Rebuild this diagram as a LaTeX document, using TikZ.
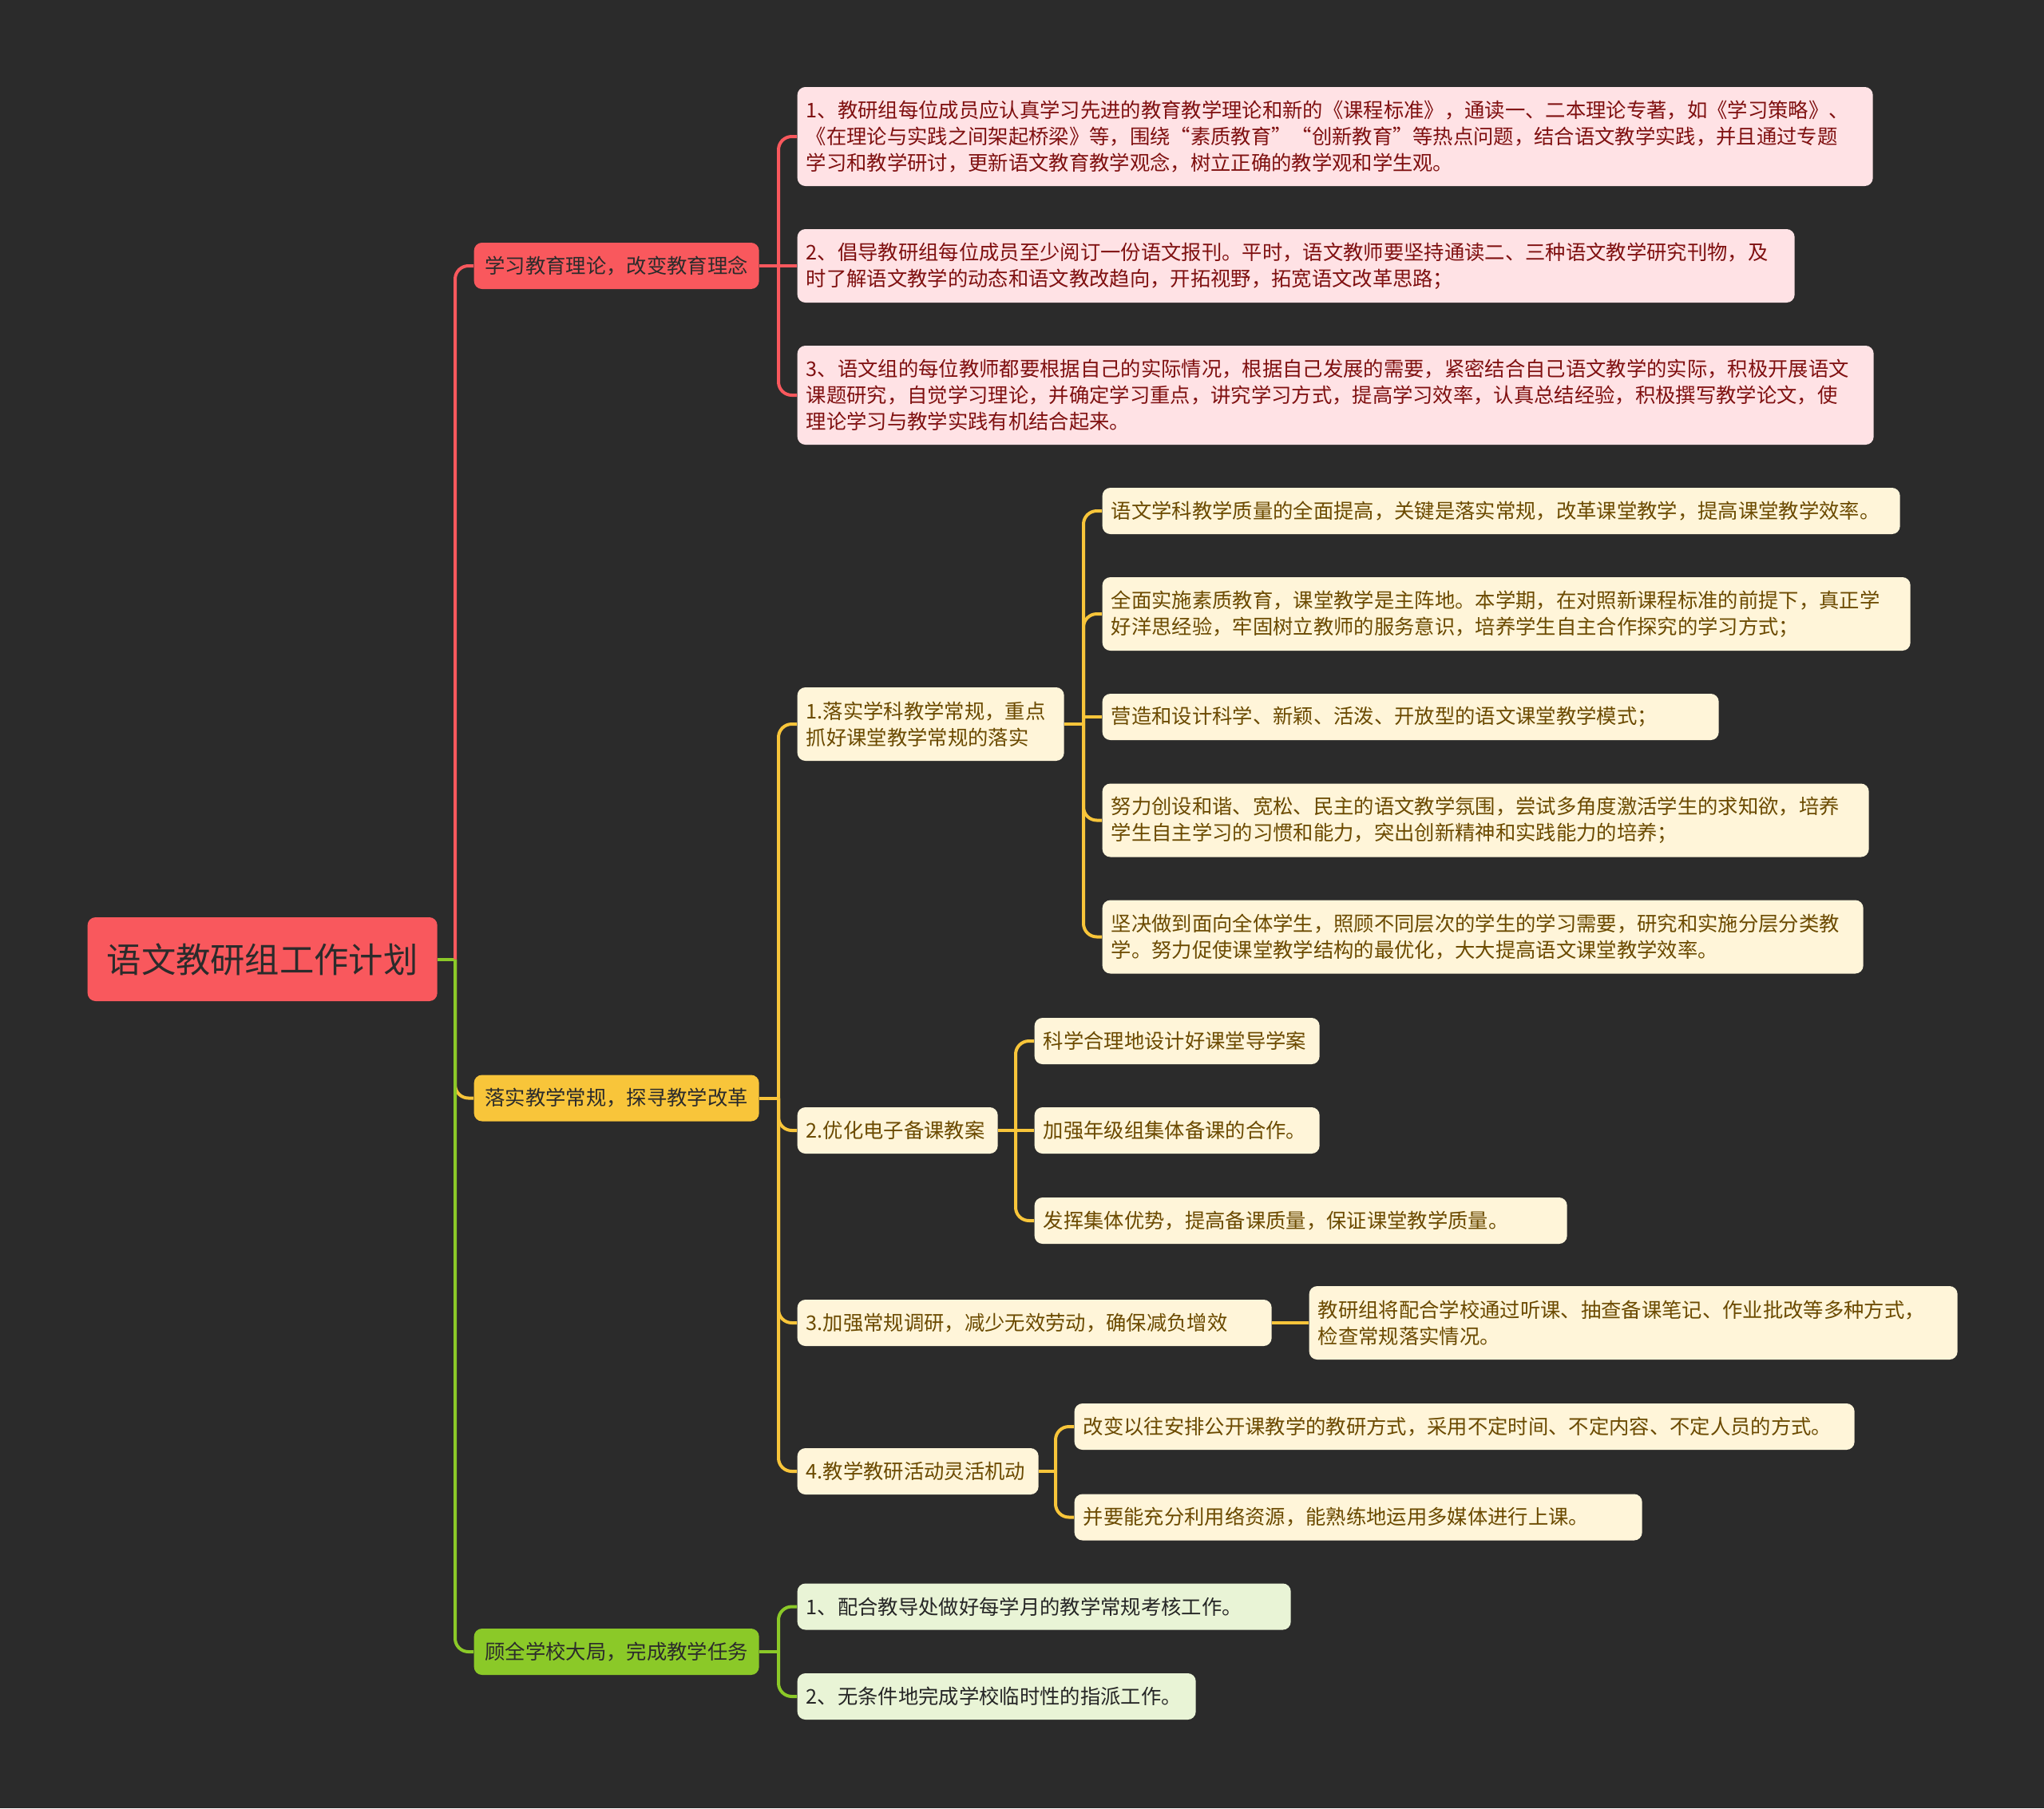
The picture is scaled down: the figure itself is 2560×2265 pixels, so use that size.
\documentclass[tikz,border=0pt]{standalone}
\usepackage{fontspec}
\setmainfont{Noto Sans CJK SC}
\definecolor{bg}{HTML}{2B2B2B}
\definecolor{redc}{HTML}{F9585D}
\definecolor{yelc}{HTML}{F8C53A}
\definecolor{grnc}{HTML}{8BC928}
\definecolor{pinkfill}{HTML}{FFE2E5}
\definecolor{pinktext}{HTML}{7F1010}
\definecolor{creamfill}{HTML}{FFF5D9}
\definecolor{creamtext}{HTML}{6B4A00}
\definecolor{lgfill}{HTML}{E9F4D6}
\definecolor{lgtext}{HTML}{262626}
\definecolor{darktext}{HTML}{2B2B2B}
\tikzset{
  basebox/.style={rounded corners=3pt, inner xsep=3.3pt, inner ysep=2pt, anchor=west,
    font=\fontsize{7.6pt}{9.8pt}\selectfont},
  leafbox/.style={basebox, align=left},
  pinkleaf/.style={leafbox, fill=pinkfill, text=pinktext},
  creamleaf/.style={leafbox, fill=creamfill, text=creamtext},
  greenleaf/.style={leafbox, fill=lgfill, text=lgtext},
  onel/.style={minimum height=17.4pt},
  twol/.style={minimum height=27.6pt},
  threel/.style={minimum height=37.2pt},
  mainbox/.style={basebox, align=center, minimum width=107.1pt, minimum height=17.4pt, text=darktext},
  conn/.style={line width=1.2pt, rounded corners=5pt},
  rline/.style={conn, draw=redc},
  yline/.style={conn, draw=yelc},
  gline/.style={conn, draw=grnc},
}
\begin{document}
\begin{tikzpicture}[x=0.3pt,y=-0.3pt]
\fill[bg] (0,0) rectangle (2560,2265);
\useasboundingbox (0,0) rectangle (2560,2265);

% root
\node[basebox, fill=redc, align=center, minimum width=131.4pt, minimum height=31.5pt,
  font=\fontsize{13pt}{15pt}\selectfont, text=darktext] (root) at (109,1201.5) {语文教研组工作计划};

% level 1
\node[mainbox, fill=redc] (l1a) at (593,333) {学习教育理论，改变教育理念};
\node[mainbox, fill=yelc] (l1b) at (593,1375.5) {落实教学常规，探寻教学改革};
\node[mainbox, fill=grnc] (l1c) at (593,2069) {顾全学校大局，完成教学任务};

% pink leaves
\node[pinkleaf, threel, text width=397.5pt] (p1) at (998,171) {1、教研组每位成员应认真学习先进的教育教学理论和新的《课程标准》，通读一、二本理论专著，如《学习策略》、\\《在理论与实践之间架起桥梁》等，围绕“素质教育”“创新教育”等热点问题，结合语文教学实践，并且通过专题\\学习和教学研讨，更新语文教育教学观念，树立正确的教学观和学生观。};
\node[pinkleaf, twol, text width=368.1pt] (p2) at (998,333) {2、倡导教研组每位成员至少阅订一份语文报刊。平时，语文教师要坚持通读二、三种语文教学研究刊物，及\\时了解语文教学的动态和语文教改趋向，开拓视野，拓宽语文改革思路；};
\node[pinkleaf, threel, text width=397.8pt] (p3) at (998,495) {3、语文组的每位教师都要根据自己的实际情况，根据自己发展的需要，紧密结合自己语文教学的实际，积极开展语文\\课题研究，自觉学习理论，并确定学习重点，讲究学习方式，提高学习效率，认真总结经验，积极撰写教学论文，使\\理论学习与教学实践有机结合起来。};

% yellow level 2
\node[creamleaf, twol, text width=93.6pt] (y1) at (998,907) {1.落实学科教学常规，重点\\抓好课堂教学常规的落实};
\node[creamleaf, onel, text width=68.7pt] (y2) at (998,1416) {2.优化电子备课教案};
\node[creamleaf, onel, text width=171.6pt] (y3) at (998,1657) {3.加强常规调研，减少无效劳动，确保减负增效};
\node[creamleaf, onel, text width=84pt] (y4) at (998,1843) {4.教学教研活动灵活机动};

% yellow level 3
\node[creamleaf, onel, text width=293.1pt] (a1) at (1380,640) {语文学科教学质量的全面提高，关键是落实常规，改革课堂教学，提高课堂教学效率。};
\node[creamleaf, twol, text width=297pt] (a2) at (1380,769) {全面实施素质教育，课堂教学是主阵地。本学期，在对照新课程标准的前提下，真正学\\好洋思经验，牢固树立教师的服务意识，培养学生自主合作探究的学习方式；};
\node[creamleaf, onel, text width=225pt] (a3) at (1380,898) {营造和设计科学、新颖、活泼、开放型的语文课堂教学模式；};
\node[creamleaf, twol, text width=281.4pt] (a4) at (1380,1027.5) {努力创设和谐、宽松、民主的语文教学氛围，尝试多角度激活学生的求知欲，培养\\学生自主学习的习惯和能力，突出创新精神和实践能力的培养；};
\node[creamleaf, twol, text width=279.3pt] (a5) at (1380,1173.5) {坚决做到面向全体学生，照顾不同层次的学生的学习需要，研究和实施分层分类教\\学。努力促使课堂教学结构的最优化，大大提高语文课堂教学效率。};

\node[creamleaf, onel, text width=100.5pt] (b1) at (1295,1304) {科学合理地设计好课堂导学案};
\node[creamleaf, onel, text width=100.5pt] (b2) at (1295,1416) {加强年级组集体备课的合作。};
\node[creamleaf, onel, text width=193.5pt] (b3) at (1295,1529) {发挥集体优势，提高备课质量，保证课堂教学质量。};

\node[creamleaf, twol, text width=237pt] (c1) at (1639,1657) {教研组将配合学校通过听课、抽查备课笔记、作业批改等多种方式，\\检查常规落实情况。};

\node[creamleaf, onel, text width=286.5pt] (d1) at (1345,1787) {改变以往安排公开课教学的教研方式，采用不定时间、不定内容、不定人员的方式。};
\node[creamleaf, onel, text width=206.7pt] (d2) at (1345,1900.5) {并要能充分利用络资源，能熟练地运用多媒体进行上课。};

% green leaves
\node[greenleaf, onel, text width=178.8pt] (g1) at (998,2012.5) {1、配合教导处做好每学月的教学常规考核工作。};
\node[greenleaf, onel, text width=143.1pt] (g2) at (998,2125) {2、无条件地完成学校临时性的指派工作。};

% junction coordinates
\coordinate (rj) at (570,1201.5);
\coordinate (aj) at (975,333);
\coordinate (bj) at (975,1375.5);
\coordinate (cj) at (975,2069);
\coordinate (y1j) at (1357,907);
\coordinate (y2j) at (1272,1416);
\coordinate (y4j) at (1322,1843);

% root connectors
\draw[yline] (rj) |- (l1b.west);
\draw[gline] (rj) |- (l1c.west);
\draw[gline, rounded corners=0pt] (root.east) -- (rj);
\draw[rline] (rj) |- (l1a.west);

% red branch
\draw[rline] (l1a.east) -- (aj);
\draw[rline] (aj) |- (p1.west);
\draw[rline] (aj) -- (p2.west);
\draw[rline] (aj) |- (p3.west);

% yellow branch
\draw[yline] (l1b.east) -- (bj);
\draw[yline] (bj) |- (y1.west);
\draw[yline] (bj) |- (y2.west);
\draw[yline] (bj) |- (y3.west);
\draw[yline] (bj) |- (y4.west);

\draw[yline] (y1.east) -- (y1j);
\draw[yline] (y1j) |- (a1.west);
\draw[yline] (y1j) |- (a2.west);
\draw[yline] (a3.west -| y1j) -- (a3.west);
\draw[yline] (y1j) |- (a4.west);
\draw[yline] (y1j) |- (a5.west);

\draw[yline] (y2.east) -- (y2j);
\draw[yline] (y2j) |- (b1.west);
\draw[yline] (y2j) -- (b2.west);
\draw[yline] (y2j) |- (b3.west);

\draw[yline] (y3.east) -- (c1.west);

\draw[yline] (y4.east) -- (y4j);
\draw[yline] (y4j) |- (d1.west);
\draw[yline] (y4j) |- (d2.west);

% green branch
\draw[gline] (l1c.east) -- (cj);
\draw[gline] (cj) |- (g1.west);
\draw[gline] (cj) |- (g2.west);
\end{tikzpicture}
\end{document}
